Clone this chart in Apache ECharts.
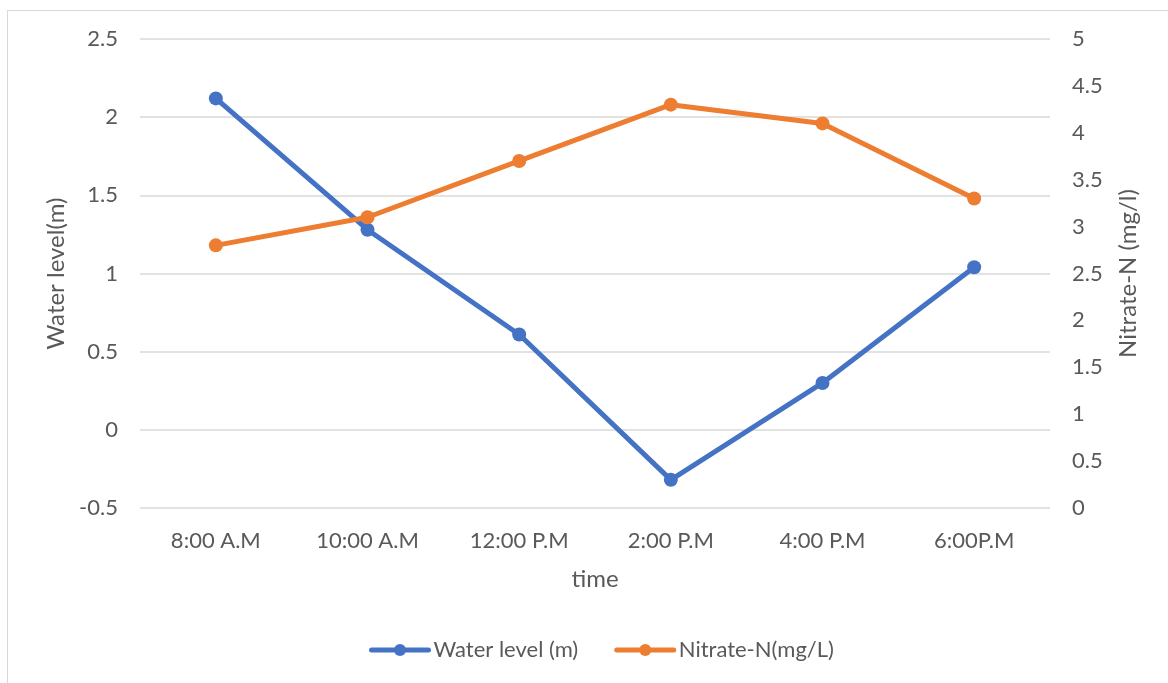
<!DOCTYPE html>
<html>
<head>
<meta charset="utf-8">
<script src="https://cdn.jsdelivr.net/npm/echarts@6/dist/echarts.min.js"></script>
<style>
html,body{margin:0;padding:0;background:#fff;overflow:hidden;}
#frame{position:absolute;left:7px;top:10px;width:1300px;height:800px;border:1px solid #D9D9D9;box-sizing:border-box;}
#chart{position:absolute;left:0;top:0;width:1168px;height:683px;}
</style>
</head>
<body>
<div id="frame"></div>
<div id="chart"></div>
<script>
const categories = ['8:00 A.M', '10:00 A.M', '12:00 P.M', '2:00 P.M', '4:00 P.M', '6:00P.M'];
const waterLevel = [2.12, 1.28, 0.61, -0.32, 0.30, 1.04];
const nitrate = [2.80, 3.10, 3.70, 4.30, 4.10, 3.30];
const seriesNames = ['Water level (m)', 'Nitrate-N(mg/L)'];

const FONT = 'Lato';
const TXT = '#595959';
const chart = echarts.init(document.getElementById('chart'), null, {renderer: 'canvas'});
chart.setOption({
  animation: false,
  textStyle: {fontFamily: FONT},
  color: ['#4472C4', '#ED7D31'],
  grid: {left: 140, right: 118, top: 39, bottom: 175, containLabel: false},
  legend: {
    bottom: 17, left: 364,
    itemWidth: 57, itemHeight: 15, itemGap: 36,
    lineStyle: {width: 5},
    textStyle: {fontFamily: FONT, fontSize: 22, color: TXT},
    data: seriesNames
  },
  xAxis: {
    type: 'category', data: categories, boundaryGap: true,
    name: 'time', nameLocation: 'middle', nameGap: 59,
    nameTextStyle: {fontFamily: FONT, fontSize: 24, color: TXT},
    axisLine: {show: false}, axisTick: {show: false},
    axisLabel: {fontFamily: FONT, fontSize: 22, color: TXT, margin: 22}
  },
  yAxis: [{
    type: 'value', min: -0.5, max: 2.5, interval: 0.5,
    name: 'Water level(m)', nameLocation: 'middle', nameRotate: 90, nameGap: 66,
    nameTextStyle: {fontFamily: FONT, fontSize: 24, color: TXT},
    axisLine: {show: false}, axisTick: {show: false},
    axisLabel: {fontFamily: FONT, fontSize: 22, color: TXT, margin: 22},
    splitLine: {show: true, lineStyle: {color: '#D9D9D9', width: 1.5}}
  }, {
    type: 'value', min: 0, max: 5, interval: 0.5,
    name: 'Nitrate-N (mg/l)', nameLocation: 'middle', nameRotate: 90, nameGap: 66,
    nameTextStyle: {fontFamily: FONT, fontSize: 24, color: TXT},
    axisLine: {show: false}, axisTick: {show: false},
    axisLabel: {fontFamily: FONT, fontSize: 22, color: TXT, margin: 22},
    splitLine: {show: false}
  }],
  series: [{
    name: seriesNames[0], type: 'line', yAxisIndex: 0, data: waterLevel,
    symbol: 'circle', symbolSize: 14,
    lineStyle: {width: 5, cap: 'round', join: 'round'},
    itemStyle: {color: '#4472C4'}
  }, {
    name: seriesNames[1], type: 'line', yAxisIndex: 1, data: nitrate,
    symbol: 'circle', symbolSize: 14,
    lineStyle: {width: 5, cap: 'round', join: 'round'},
    itemStyle: {color: '#ED7D31'}
  }]
});
</script>
</body>
</html>
